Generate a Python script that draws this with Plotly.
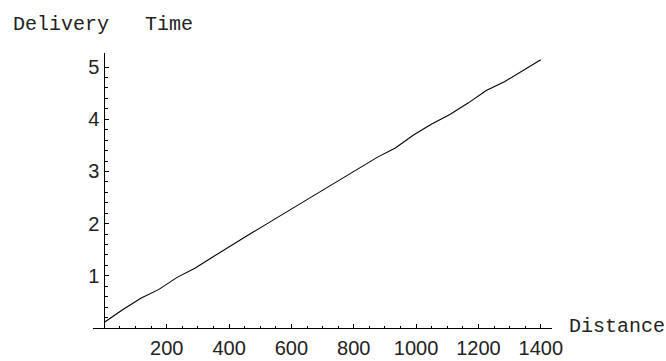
import plotly.graph_objects as go

# Data
distance = [0, 58.3, 116.7, 175, 233.3, 291.7, 350, 408.3, 466.7, 525, 583.3, 641.7,
            700, 758.3, 816.7, 875, 933.3, 991.7, 1050, 1108.3, 1166.7, 1225, 1283.3,
            1341.7, 1400]
delivery_time = [0.11, 0.35, 0.57, 0.74, 0.97, 1.15, 1.37, 1.59, 1.80, 2.01, 2.22, 2.42,
                 2.63, 2.84, 3.05, 3.27, 3.45, 3.70, 3.91, 4.09, 4.31, 4.55, 4.72,
                 4.93, 5.14]
x_tick_vals = [200, 400, 600, 800, 1000, 1200, 1400]
x_tick_text = ["200", "400", "600", "800", "1000", "1200", "1400"]
y_tick_vals = [1, 2, 3, 4, 5]
y_tick_text = ["1", "2", "3", "4", "5"]
x_minor = [v for v in range(50, 1401, 50) if v % 200 != 0]
y_minor = [round(i * 0.2, 1) for i in range(1, 26) if i % 5 != 0]

W, H = 666, 361
L, R, T, B = 93, 552, 53, 328.5
x_range = [-36.6, 1436]
y_range = [0, 5.27]

fig = go.Figure()
fig.add_trace(go.Scatter(x=distance, y=delivery_time, mode="lines",
                         line=dict(color="black", width=1.1), hoverinfo="skip"))

ypos = (0 - x_range[0]) / (x_range[1] - x_range[0])

fig.update_layout(
    width=W, height=H,
    margin=dict(l=L, r=W - R, t=T, b=H - B, pad=0),
    paper_bgcolor="white", plot_bgcolor="white",
    showlegend=False,
    xaxis=dict(range=x_range, showgrid=False, zeroline=False, automargin=False,
               showline=True, linecolor="black", linewidth=1,
               tickmode="array", tickvals=x_tick_vals, ticktext=x_tick_text,
               ticks="inside", ticklen=4, tickwidth=1, tickcolor="black",
               minor=dict(tickmode="array", tickvals=x_minor, ticks="inside",
                          ticklen=2.5, tickwidth=1, tickcolor="black"),
               tickfont=dict(family="Liberation Sans", size=20, color="#222"),
               ticklabelstandoff=2),
    yaxis=dict(range=y_range, showgrid=False, zeroline=False, automargin=False,
               anchor="free", position=ypos,
               showline=True, linecolor="black", linewidth=1,
               tickmode="array", tickvals=y_tick_vals, ticktext=y_tick_text,
               ticks="inside", ticklen=4, tickwidth=1, tickcolor="black",
               minor=dict(tickmode="array", tickvals=y_minor, ticks="inside",
                          ticklen=2.5, tickwidth=1, tickcolor="black"),
               tickfont=dict(family="Liberation Sans", size=20, color="#222"),
               ticklabelstandoff=1),
)

def px2x(px):
    return (px - L) / (R - L)

def py2y(py):
    return (B - py) / (B - T)

fig.add_annotation(text="Delivery\u00a0\u00a0\u00a0Time", xref="paper", yref="paper",
                   x=px2x(11), y=py2y(24), xanchor="left", yanchor="middle",
                   showarrow=False,
                   font=dict(family="Liberation Mono", size=20, color="#222"))
fig.add_annotation(text="Distance", xref="paper", yref="paper",
                   x=px2x(567), y=py2y(327), xanchor="left", yanchor="middle",
                   showarrow=False,
                   font=dict(family="Liberation Mono", size=20, color="#222"))

fig.write_html("out.html", config={"displayModeBar": False},
               post_script="document.body.style.margin='0';")
